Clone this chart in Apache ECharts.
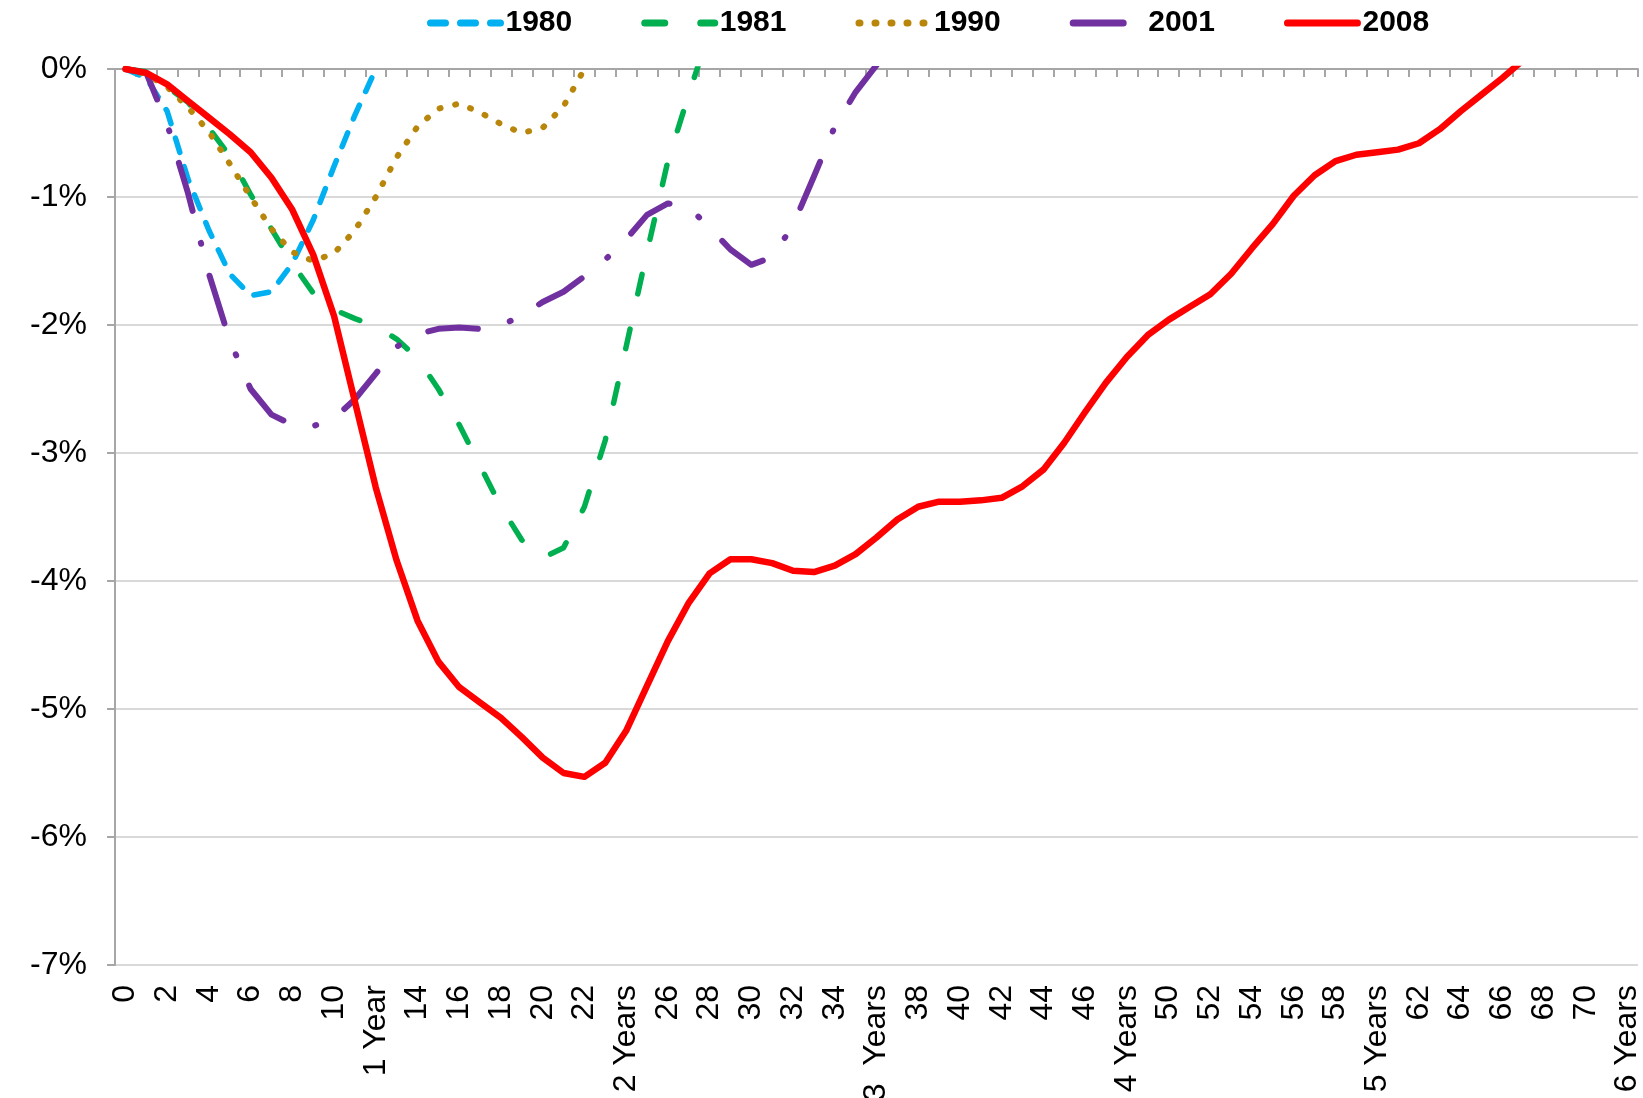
<!DOCTYPE html>
<html>
<head>
<meta charset="utf-8">
<script src="https://cdn.jsdelivr.net/npm/echarts@6/dist/echarts.min.js"></script>
<style>
  html, body { margin: 0; padding: 0; background: #fff; }
  #chart { width: 1643px; height: 1098px; }
</style>
</head>
<body>
<div id="chart"></div>
<script>
// x轴类目（月份 0 - 72）
const monthLabels = [
  "0", "1", "2", "3", "4", "5", "6", "7", "8", "9", "10", "11", "1 Year",
  "13", "14", "15", "16", "17", "18", "19", "20", "21", "22", "23", "2 Years",
  "25", "26", "27", "28", "29", "30", "31", "32", "33", "34", "35", "3  Years",
  "37", "38", "39", "40", "41", "42", "43", "44", "45", "46", "47", "4 Years",
  "49", "50", "51", "52", "53", "54", "55", "56", "57", "58", "59", "5 Years",
  "61", "62", "63", "64", "65", "66", "67", "68", "69", "70", "71", "6 Years"
];

// y轴刻度 (%)
const yTicks = { min: -7, max: 0, step: 1 };

// 各次衰退的就业变化 (%)
const series1980 = [0, -0.07, -0.33, -0.86, -1.26, -1.6, -1.77, -1.74, -1.52, -1.18, -0.76, -0.36, 0];
const series1981 = [0, -0.02, -0.14, -0.26, -0.46, -0.68, -0.98, -1.25, -1.52, -1.75, -1.88, -1.95, -2.01,
  -2.11, -2.26, -2.5, -2.78, -3.1, -3.42, -3.68, -3.82, -3.74, -3.42, -2.9, -2.17, -1.43, -0.72, -0.2, 0.3];
const series1990 = [0, -0.04, -0.14, -0.3, -0.49, -0.74, -1.0, -1.25, -1.43, -1.5, -1.44, -1.26, -1.0,
  -0.69, -0.45, -0.31, -0.27, -0.34, -0.43, -0.5, -0.46, -0.29, 0];
const series2001 = [0, -0.03, -0.43, -0.97, -1.6, -2.12, -2.5, -2.7, -2.78, -2.79, -2.73, -2.58, -2.38,
  -2.17, -2.07, -2.03, -2.02, -2.03, -2.0, -1.93, -1.82, -1.74, -1.62, -1.49, -1.33, -1.14, -1.05, -1.08,
  -1.24, -1.41, -1.53, -1.47, -1.22, -0.84, -0.45, -0.18, 0.03];
const series2008 = [0, -0.03, -0.12, -0.25, -0.38, -0.51, -0.65, -0.85, -1.1, -1.45, -1.93, -2.6, -3.27,
  -3.84, -4.31, -4.63, -4.83, -4.95, -5.07, -5.22, -5.38, -5.5, -5.53, -5.42, -5.17, -4.82, -4.47, -4.17,
  -3.94, -3.83, -3.83, -3.86, -3.92, -3.93, -3.88, -3.79, -3.66, -3.52, -3.42, -3.38, -3.38, -3.37, -3.35,
  -3.26, -3.13, -2.92, -2.68, -2.45, -2.25, -2.08, -1.96, -1.86, -1.76, -1.6, -1.4, -1.21, -0.99, -0.83,
  -0.72, -0.67, -0.65, -0.63, -0.58, -0.47, -0.33, -0.2, -0.07, 0.07];

const FONT = "'Liberation Sans', Arial, sans-serif";
const AXIS_GREY = "#a6a6a6";

const chart = echarts.init(document.getElementById("chart"));

function lineSeries(name, data, color, width, dash) {
  return {
    name: name,
    type: "line",
    data: data,
    xAxisIndex: 0,
    symbol: "none",
    clip: true,
    lineStyle: {
      color: color,
      width: width,
      type: dash || "solid",
      cap: "round",
      join: "round"
    },
    itemStyle: { color: color }
  };
}

chart.setOption({
  animation: false,
  backgroundColor: "#fff",
  textStyle: { fontFamily: FONT },
  grid: {
    left: 115, right: 5, top: 69, bottom: 133,
    containLabel: false,
    // 标签超出画布时不要缩小绘图区
    outerBoundsMode: "none"
  },
  legend: {
    left: 427,
    top: 8,
    padding: 0,
    itemWidth: 70,
    itemHeight: 14,
    itemGap: 69,
    // 图例只画线，不画中间的圆点
    itemStyle: { opacity: 0 },
    lineStyle: { width: 7, cap: "round" },
    textStyle: { fontFamily: FONT, fontSize: 30, fontWeight: "bold", color: "#000" },
    data: ["1980", "1981", "1990", "2001", "2008"]
  },
  xAxis: [
    {
      // 底部：只显示标签
      type: "category",
      data: monthLabels,
      position: "bottom",
      axisLine: { show: false },
      axisTick: { show: false },
      axisLabel: {
        interval: 1,
        rotate: 90,
        margin: 20,
        fontFamily: FONT,
        fontSize: 32,
        color: "#000"
      },
      splitLine: { show: false }
    },
    {
      // 顶部：0% 处的轴线和刻度
      type: "category",
      data: monthLabels,
      position: "top",
      axisLine: { show: true, lineStyle: { color: AXIS_GREY, width: 2 } },
      axisTick: { show: true, inside: true, interval: 0, length: 8, lineStyle: { color: AXIS_GREY, width: 2 } },
      axisLabel: { show: false },
      splitLine: { show: false }
    }
  ],
  yAxis: {
    type: "value",
    min: yTicks.min,
    max: yTicks.max,
    interval: yTicks.step,
    axisLine: { show: true, lineStyle: { color: AXIS_GREY, width: 2 } },
    axisTick: { show: true, length: 8, lineStyle: { color: AXIS_GREY, width: 2 } },
    axisLabel: {
      formatter: "{value}%",
      margin: 28,
      fontFamily: FONT,
      fontSize: 32,
      color: "#000"
    },
    splitLine: { show: true, lineStyle: { color: "#d9d9d9", width: 2 } }
  },
  series: [
    lineSeries("1980", series1980, "#00b0f0", 5.5, [15, 15]),
    lineSeries("1981", series1981, "#00b050", 5.5, [20, 36]),
    lineSeries("1990", series1990, "#b8860b", 6, [1, 15]),
    lineSeries("2001", series2001, "#7030a0", 6, [50, 33, 1, 33]),
    lineSeries("2008", series2008, "#ff0000", 6.5, null)
  ]
});
</script>
</body>
</html>
